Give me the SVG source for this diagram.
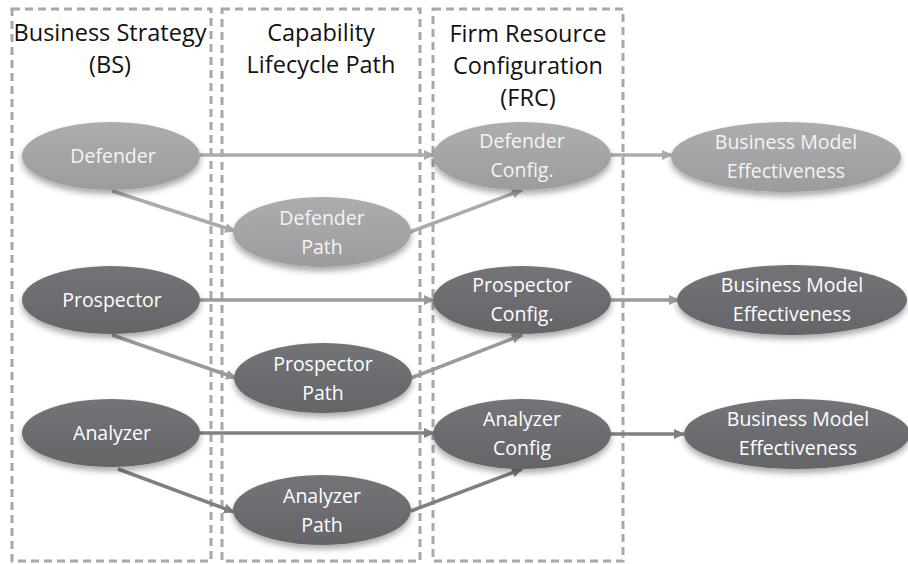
<svg xmlns="http://www.w3.org/2000/svg" width="908" height="564" viewBox="0 0 908 564">
<style>
.lane{fill:none;stroke:#a8a8a8;stroke-width:3;stroke-dasharray:8 5}
.title{font-family:"Open Sans","Liberation Sans",sans-serif;font-size:23.5px;fill:#111;text-anchor:middle}
.lbl{font-family:"Open Sans","Liberation Sans",sans-serif;font-size:19.5px;text-anchor:middle}
.lt text{fill:#f4f4f4}
.dk text{fill:#ffffff}
.c1{stroke:#ababab;stroke-width:3.5;fill:none}
.c2{stroke:#999a9c;stroke-width:3.5;fill:none}
.c3{stroke:#7f8084;stroke-width:3.5;fill:none}
</style>
<defs>
<linearGradient id="gl" x1="0" y1="0" x2="0" y2="1">
<stop offset="0" stop-color="#adadad"/><stop offset="1" stop-color="#9c9c9c"/>
</linearGradient>
<linearGradient id="gd" x1="0" y1="0" x2="0" y2="1">
<stop offset="0" stop-color="#737478"/><stop offset="1" stop-color="#646569"/>
</linearGradient>
<filter id="sh" x="-20%" y="-20%" width="140%" height="160%">
<feGaussianBlur in="SourceAlpha" stdDeviation="3"/>
<feOffset dy="4" result="b"/>
<feComponentTransfer><feFuncA type="linear" slope="0.35"/></feComponentTransfer>
<feMerge><feMergeNode/><feMergeNode in="SourceGraphic"/></feMerge>
</filter>
<marker id="a1" markerUnits="userSpaceOnUse" markerWidth="12" markerHeight="12" refX="10" refY="6" orient="auto"><path d="M0,1 L11,6 L0,11 z" fill="#ababab"/></marker>
<marker id="a2" markerUnits="userSpaceOnUse" markerWidth="12" markerHeight="12" refX="10" refY="6" orient="auto"><path d="M0,1 L11,6 L0,11 z" fill="#999a9c"/></marker>
<marker id="a3" markerUnits="userSpaceOnUse" markerWidth="12" markerHeight="12" refX="10" refY="6" orient="auto"><path d="M0,1 L11,6 L0,11 z" fill="#7f8084"/></marker>
</defs>
<rect width="908" height="564" fill="#ffffff"/>
<g id="lanes">
<rect class="lane" x="12" y="9" width="199" height="552"/>
<rect class="lane" x="222" y="9" width="198" height="552"/>
<rect class="lane" x="433" y="9" width="190" height="552"/>
<text class="title" x="110" y="41">Business Strategy</text>
<text class="title" x="110" y="73">(BS)</text>
<text class="title" x="321" y="41">Capability</text>
<text class="title" x="321" y="73">Lifecycle Path</text>
<text class="title" x="528" y="42">Firm Resource</text>
<text class="title" x="528" y="74">Configuration</text>
<text class="title" x="528" y="106">(FRC)</text>
</g>
<g id="connectors">
<line class="c1" x1="200" y1="155" x2="434" y2="155" marker-end="url(#a1)"/>
<line class="c1" x1="112" y1="191" x2="235" y2="231" marker-end="url(#a1)"/>
<line class="c1" x1="410" y1="232" x2="522" y2="190" marker-end="url(#a1)"/>
<line class="c1" x1="608" y1="155" x2="672" y2="155" marker-end="url(#a1)"/>
<line class="c2" x1="200" y1="300" x2="434" y2="300" marker-end="url(#a2)"/>
<line class="c2" x1="112" y1="335" x2="236" y2="378" marker-end="url(#a2)"/>
<line class="c2" x1="411" y1="378" x2="522" y2="335" marker-end="url(#a2)"/>
<line class="c2" x1="608" y1="300" x2="679" y2="300" marker-end="url(#a2)"/>
<line class="c3" x1="200" y1="433" x2="434" y2="433" marker-end="url(#a3)"/>
<line class="c3" x1="118" y1="469" x2="234" y2="512" marker-end="url(#a3)"/>
<line class="c3" x1="411" y1="511" x2="522" y2="469" marker-end="url(#a3)"/>
<line class="c3" x1="608" y1="434" x2="684" y2="434" marker-end="url(#a3)"/>
</g>
<g id="defender" class="lt"><ellipse cx="111" cy="156" rx="89" ry="34" fill="url(#gl)" filter="url(#sh)"/><text class="lbl" x="113" y="163">Defender</text></g>
<g id="defender-path" class="lt"><ellipse cx="322" cy="232" rx="89" ry="35" fill="url(#gl)" filter="url(#sh)"/><text class="lbl" x="322" y="225">Defender</text><text class="lbl" x="322" y="254">Path</text></g>
<g id="defender-config" class="lt"><ellipse cx="522" cy="156" rx="89" ry="34" fill="url(#gl)" filter="url(#sh)"/><text class="lbl" x="522" y="148">Defender</text><text class="lbl" x="522" y="177">Config.</text></g>
<g id="bme-defender" class="lt"><ellipse cx="786" cy="157" rx="115" ry="35" fill="url(#gl)" filter="url(#sh)"/><text class="lbl" x="786" y="149">Business Model</text><text class="lbl" x="786" y="178">Effectiveness</text></g>
<g id="prospector" class="dk"><ellipse cx="111" cy="300" rx="89" ry="34" fill="url(#gd)" filter="url(#sh)"/><text class="lbl" x="112" y="307">Prospector</text></g>
<g id="prospector-path" class="dk"><ellipse cx="323" cy="378" rx="89" ry="35" fill="url(#gd)" filter="url(#sh)"/><text class="lbl" x="323" y="371">Prospector</text><text class="lbl" x="323" y="400">Path</text></g>
<g id="prospector-config" class="dk"><ellipse cx="522" cy="300" rx="89" ry="34" fill="url(#gd)" filter="url(#sh)"/><text class="lbl" x="522" y="292">Prospector</text><text class="lbl" x="522" y="321">Config.</text></g>
<g id="bme-prospector" class="dk"><ellipse cx="792" cy="300" rx="115" ry="35" fill="url(#gd)" filter="url(#sh)"/><text class="lbl" x="792" y="292">Business Model</text><text class="lbl" x="792" y="321">Effectiveness</text></g>
<g id="analyzer" class="dk"><ellipse cx="111" cy="433" rx="89" ry="34" fill="url(#gd)" filter="url(#sh)"/><text class="lbl" x="112" y="440">Analyzer</text></g>
<g id="analyzer-path" class="dk"><ellipse cx="322" cy="510" rx="89" ry="35" fill="url(#gd)" filter="url(#sh)"/><text class="lbl" x="322" y="503">Analyzer</text><text class="lbl" x="322" y="532">Path</text></g>
<g id="analyzer-config" class="dk"><ellipse cx="522" cy="434" rx="89" ry="35" fill="url(#gd)" filter="url(#sh)"/><text class="lbl" x="522" y="426">Analyzer</text><text class="lbl" x="522" y="455">Config</text></g>
<g id="bme-analyzer" class="dk"><ellipse cx="797" cy="434" rx="113" ry="35" fill="url(#gd)" filter="url(#sh)"/><text class="lbl" x="798" y="426">Business Model</text><text class="lbl" x="798" y="455">Effectiveness</text></g>
</svg>
